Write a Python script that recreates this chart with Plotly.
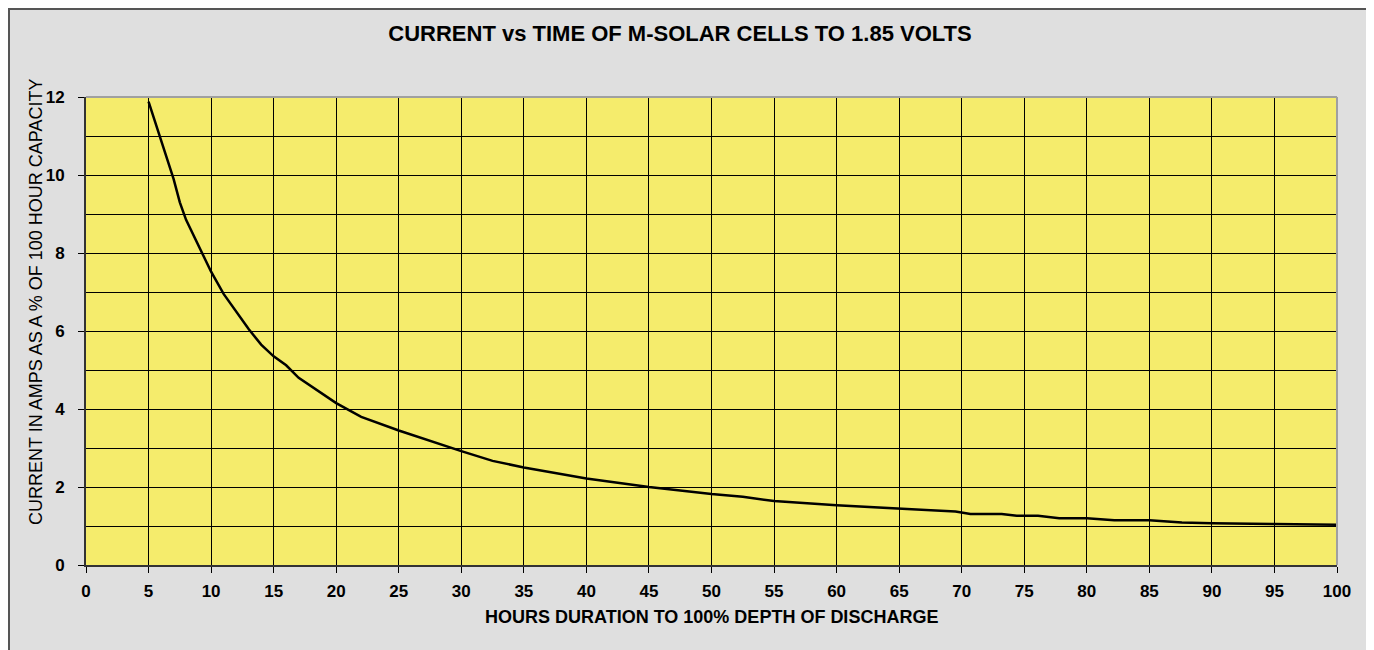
import plotly.graph_objects as go

# Data
hours = [5, 7, 7.5, 8, 10, 11, 13, 14, 15, 16, 17, 20, 22, 25, 30, 32.5, 35, 40, 45,
         50, 52.5, 55, 60, 65, 69.5, 70.7, 73.2, 74.4, 76.1, 77.8, 80, 82.2, 85,
         87.6, 90, 95, 100]
current_pct = [11.88, 9.9, 9.3, 8.85, 7.52, 6.95, 6.05, 5.65, 5.35, 5.12, 4.8, 4.15,
               3.8, 3.45, 2.92, 2.67, 2.5, 2.22, 2.0, 1.82, 1.75, 1.64, 1.53, 1.44,
               1.37, 1.31, 1.31, 1.26, 1.26, 1.2, 1.2, 1.15, 1.15, 1.09, 1.07, 1.05, 1.03]

x_ticks = list(range(0, 101, 5))
y_ticks = list(range(0, 13, 2))

title_text = "CURRENT vs TIME OF M-SOLAR CELLS TO 1.85 VOLTS"
x_title = "HOURS DURATION TO 100% DEPTH OF DISCHARGE"
y_title = "CURRENT IN AMPS AS A % OF 100 HOUR CAPACITY"

FONT = "Liberation Sans, Arial, sans-serif"
OFF = 8  # page offset of the figure (body margin)
W, H = 1374, 650
ML = 86 - OFF
MT = 97 - OFF
MR = W - (1337 - OFF)
MB = H - (565 - OFF)
PW = W - ML - MR
PH = H - MT - MB


def px_x(p):
    return (p - OFF - ML) / PW


def px_y(p):
    return (H - MB - (p - OFF)) / PH


fig = go.Figure()
fig.add_trace(go.Scatter(x=hours, y=current_pct, mode="lines",
                         line=dict(color="black", width=2.5), showlegend=False,
                         hoverinfo="x+y"))

fig.update_layout(
    width=W, height=H,
    margin=dict(l=ML, r=MR, t=MT, b=MB),
    paper_bgcolor="#dfdfdf",
    plot_bgcolor="#f5ec6c",
    font=dict(family=FONT, color="black"),
    title=dict(text="<b>" + title_text + "</b>", x=(680 - OFF) / W, xanchor="center",
               y=1 - (33 - OFF) / H, yanchor="middle", font=dict(size=22, family=FONT)),
    showlegend=False,
)

fig.update_xaxes(
    range=[0, 100], tickvals=x_ticks, ticktext=[f"<b>{v}</b>" for v in x_ticks],
    showgrid=True, gridcolor="black", gridwidth=1,
    showline=True, linecolor="#333333", linewidth=2,
    ticks="outside", ticklen=6, tickcolor="black", tickwidth=1,
    ticklabelstandoff=4,
    tickfont=dict(size=17, family=FONT), zeroline=False,
)
fig.update_yaxes(
    range=[0, 12], tickvals=y_ticks, ticktext=[f"<b>{v}</b>" for v in y_ticks],
    showgrid=True, gridcolor="black", gridwidth=1,
    minor=dict(dtick=1, tick0=0, showgrid=True, gridcolor="black", gridwidth=1, ticks=""),
    showline=True, linecolor="#333333", linewidth=2,
    ticks="outside", ticklen=6, tickcolor="black", tickwidth=1,
    ticklabelstandoff=10,
    tickfont=dict(size=17, family=FONT), zeroline=False,
)

# Axis titles as annotations
fig.add_annotation(text="<b>" + x_title + "</b>", xref="paper", yref="paper",
                   x=0.5, y=px_y(617), xanchor="center", yanchor="middle",
                   showarrow=False, font=dict(size=18, family=FONT))
fig.add_annotation(text=y_title, xref="paper", yref="paper",
                   x=px_x(36), y=px_y(302), xanchor="center", yanchor="middle",
                   textangle=-90, showarrow=False, font=dict(size=18, family=FONT))

# Gray top and right plot borders
fig.add_shape(type="line", xref="paper", yref="paper", x0=0, x1=1, y0=1, y1=1,
              line=dict(color="#a0a0a0", width=2), layer="above")
fig.add_shape(type="line", xref="paper", yref="paper", x0=1, x1=1, y0=0, y1=1,
              line=dict(color="#a0a0a0", width=2), layer="above")

# White surround outside the chart frame (right side)
fig.add_shape(type="rect", xref="paper", yref="paper",
              x0=px_x(1367), x1=px_x(W + 40), y0=px_y(H + 40), y1=px_y(-40),
              fillcolor="white", line=dict(width=0), layer="above")

# Chart frame
fig.add_shape(type="rect", xref="paper", yref="paper",
              x0=px_x(OFF + 1), x1=px_x(1367), y0=px_y(H + 20), y1=px_y(OFF + 1),
              line=dict(color="#555555", width=2), fillcolor="rgba(0,0,0,0)", layer="above")

fig.write_html("out.html")
